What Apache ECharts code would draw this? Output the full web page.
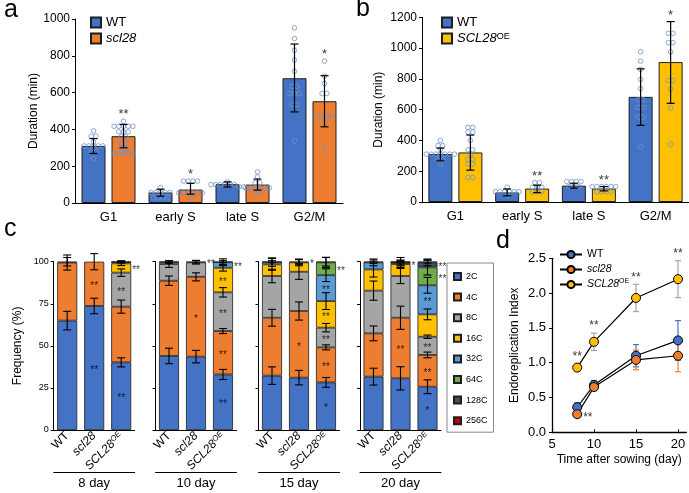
<!DOCTYPE html>
<html><head><meta charset="utf-8">
<script src="https://cdn.jsdelivr.net/npm/echarts@6/dist/echarts.min.js"></script>
<style>html,body{margin:0;padding:0;background:#fff}#c{width:689px;height:493px}</style>
</head><body><div id="c"></div>
<script>
// ================= DATA =================
const phases = ['G1', 'early S', 'late S', 'G2/M'];
// panel a: WT vs scl28
const aWT = [310, 57, 102, 678];
const aWTLo = [269, 37, 87, 495];
const aWTHi = [350, 75, 115, 864];
const aWTSig = ['', '', '', ''];
const aWTDots = [
  [392, 363, 363, 332, 310, 310, 310, 310, 310, 278, 278, 242],
  [84, 57, 57, 57, 57, 57, 28, 28, 28, 28],
  [115, 100, 100, 100, 100, 100, 100, 88, 88],
  [952, 894, 830, 776, 716, 634, 634, 595, 595, 595, 535, 535, 338]
];
const aScl = [363, 73, 100, 553];
const aSclLo = [300, 48, 70, 414];
const aSclHi = [427, 107, 130, 692];
const aSclSig = ['**', '*', '', '*'];
const aSclDots = [
  [444, 417, 417, 417, 417, 417, 387, 387, 387, 360, 360, 327, 327, 296, 296, 269, 269, 269, 269, 269],
  [119, 119, 119, 119, 55, 55, 55, 55, 55, 55, 28],
  [169, 142, 110, 110, 82, 82, 82, 82, 82, 82, 55, 55],
  [771, 689, 649, 595, 595, 472, 472, 472, 472, 441, 300]
];
// panel b: WT vs SCL28OE
const bWT = [311, 62, 106, 683];
const bWTLo = [267, 40, 90, 498];
const bWTHi = [350, 85, 122, 865];
const bWTSig = ['', '', '', ''];
const bWTDots = [
  [400, 367, 367, 339, 311, 311, 311, 311, 311, 311, 311, 274, 274, 246],
  [96, 67, 67, 67, 67, 67, 67, 39],
  [133, 133, 133, 133, 100, 100, 100],
  [976, 915, 861, 796, 737, 665, 665, 615, 615, 552, 552, 357]
];
const bOE = [322, 87, 87, 909];
const bOELo = [207, 61, 72, 641];
const bOEHi = [435, 109, 100, 1172];
const bOESig = ['', '**', '**', '*'];
const bOEDots = [
  [485, 485, 454, 454, 400, 339, 339, 311, 278, 278, 248, 248, 159, 159],
  [126, 126, 96, 96, 96, 67, 67, 67],
  [100, 100, 100, 100, 100, 100, 67, 67, 67, 67],
  [1096, 1096, 1035, 1035, 976, 789, 789, 735, 611, 376]
];

// panel c: ploidy distribution (%), order: 8d WT, 8d scl28, 8d OE, 10d ..., 15d ..., 20d ...
const genotypes = ['WT', 'scl28', 'SCL28OE'];
const days = ['8 day', '10 day', '15 day', '20 day'];
const ploidy = ['2C', '4C', '8C', '16C', '32C', '64C', '128C', '256C'];
const c2C   = [65.0, 73.7, 40.2, 44.0, 43.6, 33.0, 32.3, 31.1, 28.3, 31.7, 30.7, 25.7];
const c4C   = [34.5, 26.3, 33.1, 44.7, 47.4, 25.8, 34.4, 39.6, 20.8, 25.7, 36.0, 18.9];
const c8C   = [0.5, 0, 20.2, 9.9, 8.6, 23.0, 24.8, 23.3, 11.7, 25.4, 24.8, 10.8];
const c16C  = [0, 0, 5.5, 1.2, 0.4, 14.6, 6.9, 5.6, 15.8, 12.6, 7.1, 13.3];
const c32C  = [0, 0, 0.8, 0.2, 0, 3.3, 1.4, 0.4, 15.4, 4.2, 0.9, 17.3];
const c64C  = [0, 0, 0.2, 0, 0, 0.3, 0.2, 0, 7.6, 0.4, 0.2, 10.6];
const c128C = [0, 0, 0, 0, 0, 0, 0, 0, 0.4, 0, 0.3, 3.0];
const c256C = [0, 0, 0, 0, 0, 0, 0, 0, 0, 0, 0, 0.4];
// error (half-width, %)
const e2C   = [5.5, 4.6, 2.7, 4.6, 3.7, 3.0, 5.2, 4.3, 2.9, 5.0, 6.9, 4.1];
const e4C   = [4.5, 4.8, 3.9, 2.8, 2.4, 1.5, 5.0, 5.4, 1.5, 4.4, 6.9, 1.7];
const e8C   = [2.5, 0, 2.2, 2.0, 1.0, 2.8, 4.0, 4.5, 2.5, 5.7, 4.5, 1.0];
const e16C  = [0, 0, 1.3, 0.8, 0.8, 2.0, 3.5, 2.0, 5.0, 4.5, 2.0, 3.2];
const e32C  = [0, 0, 0.6, 0.6, 0, 2.0, 2.5, 1.2, 3.8, 2.0, 1.5, 4.7];
const e64C  = [0, 0, 0.4, 0, 0, 0.6, 0.6, 0, 3.0, 1.0, 0.5, 4.5];
const e128C = [0, 0, 0, 0, 0, 0, 0, 0, 2.5, 0, 2.5, 2.0];
const e256C = [0, 0, 0, 0, 0, 0, 0, 0, 0, 0, 0, 0.8];
// significance marks
const s2C   = ['', '**', '**', '', '', '**', '', '', '*', '', '', '*'];
const s4C   = ['', '**', '', '', '*', '**', '', '*', '**', '', '**', '**'];
const s8C   = ['', '', '**', '', '', '**', '', '', '**', '', '', '**'];
const s16C  = ['', '', '**', '', '**', '**', '', '', '**', '', '', ''];
const s32C  = ['', '', '**', '', '', '**', '', '*', '**', '', '*', '**'];
const s64C  = ['', '', '', '', '', '*', '', '', '**', '', '', '**'];
const s128C = ['', '', '', '', '', '', '', '', '', '', '**', '**'];
const s256C = ['', '', '', '', '', '', '', '', '', '', '', '*'];

// panel d: endoreplication index
const dDays = [8, 10, 15, 20];
const dWT = [0.36, 0.68, 1.10, 1.32];
const dWTErr = [0.065, 0.065, 0.16, 0.285];
const dScl = [0.26, 0.65, 1.04, 1.10];
const dSclErr = [0.04, 0.04, 0.14, 0.23];
const dOE = [0.93, 1.30, 1.93, 2.20];
const dOEErr = [0.05, 0.125, 0.195, 0.265];
const dSclSig = ['**', '', '', ''];
const dOESig = ['**', '**', '**', '**'];

// ================= STYLE / LAYOUT =================
const FONT = 'Liberation Sans';
const COL = { WT: '#4472C4', scl: '#ED7D31', OE: '#FFC000' };
const cColors = ['#4472C4', '#ED7D31', '#A5A5A5', '#FFC000', '#5B9BD5', '#70AD47', '#3B4E6B', '#C00000'];
const LA = { left: 75, top: 19, width: 268, height: 184 };
const LB = { left: 422, top: 17.3, width: 267, height: 184.7 };
const LC = [53.7, 155.5, 258.5, 360].map(l => ({ left: l, top: 261.7, width: 81, height: 168.3 }));
const LD = { left: 552, top: 258.3, width: 134.4, height: 174 };

const grids = [], xAxes = [], yAxes = [], series = [];
const txt = (o) => Object.assign({ color: '#000', fontFamily: FONT }, o);
const rich = {
  i: txt({ fontStyle: 'italic' }),
  s: txt({ fontSize: 8, verticalAlign: 'top' }),
  si: txt({ fontSize: 8, fontStyle: 'italic', verticalAlign: 'top' })
};
const hiddenAxis = { show: false, axisLine: { show: false, onZero: false }, axisTick: { show: false },
  axisLabel: { show: false }, splitLine: { show: false }, splitArea: { show: false } };
// overlay value axis spans the category bands: band k (0-based) is centred at k + 1
const OV = 1;

function swarm(values, center, step, tol) {
  const sorted = values.slice().sort((a, b) => b - a);
  const rows = [];
  sorted.forEach(v => {
    const r = rows.find(r => Math.abs(r[0] - v) <= tol);
    if (r) r.push(v); else rows.push([v]);
  });
  const pts = [];
  rows.forEach(r => r.forEach((v, j) => pts.push([center + (j - (r.length - 1) / 2) * step, v])));
  return pts;
}

function errRender(capPx, color, lw) {
  return function (params, api) {
    const x = api.value(0), lo = api.value(1), hi = api.value(2);
    const p1 = api.coord([x, lo]), p2 = api.coord([x, hi]);
    const h = capPx / 2;
    const style = { stroke: color, lineWidth: lw };
    return { type: 'group', children: [
      { type: 'line', shape: { x1: p1[0], y1: p1[1], x2: p2[0], y2: p2[1] }, style },
      { type: 'line', shape: { x1: p1[0] - h, y1: p1[1], x2: p1[0] + h, y2: p1[1] }, style },
      { type: 'line', shape: { x1: p2[0] - h, y1: p2[1], x2: p2[0] + h, y2: p2[1] }, style }
    ] };
  };
}

function addBarPanel(L, yMax, groups, yNameGap) {
  const gi = grids.length;
  grids.push(Object.assign({ outerBoundsMode: 'none' }, L));
  const xc = xAxes.length;
  xAxes.push({ type: 'category', gridIndex: gi, data: phases, axisTick: { show: false },
    axisLine: { onZero: false, lineStyle: { color: '#000', width: 1 } },
    axisLabel: txt({ fontSize: 13, margin: 8 }), z: 5 });
  const xv = xAxes.length;
  xAxes.push(Object.assign({ type: 'value', gridIndex: gi, min: OV - 0.5, max: OV + phases.length - 0.5 }, hiddenAxis));
  const yi = yAxes.length;
  yAxes.push({ type: 'value', gridIndex: gi, min: 0, max: yMax, interval: 200,
    splitLine: { show: false }, axisLine: { show: true, onZero: false, lineStyle: { color: '#000' } },
    axisTick: { show: true, length: 3, lineStyle: { color: '#000' } },
    axisLabel: txt({ fontSize: 12, margin: 5, formatter: v => String(v) }),
    name: 'Duration (min)', nameLocation: 'middle', nameGap: yNameGap,
    nameTextStyle: txt({ fontSize: 12 }) });
  const bw = 24, gap = 6, band = L.width / phases.length;
  const off = (bw + gap) / 2 / band;
  groups.forEach((g, k) => {
    const c = OV + (k === 0 ? -off : off);
    series.push({ type: 'bar', name: g.name, xAxisIndex: xc, yAxisIndex: yi, data: g.vals,
      barWidth: bw, barGap: (gap / bw * 100) + '%',
      itemStyle: { color: g.color, borderColor: '#1e1e1e', borderWidth: 1 }, z: 2 });
    const dots = [];
    g.dots.forEach((arr, i) => swarm(arr, i + c, 4.7 / band, yMax * 0.014).forEach(p => dots.push(p)));
    series.push({ type: 'scatter', xAxisIndex: xv, yAxisIndex: yi, data: dots, symbol: 'circle',
      symbolSize: 4.6, itemStyle: { color: 'rgba(255,255,255,0)', borderColor: '#6f93c8', borderWidth: 1 },
      z: 4, silent: true });
    series.push({ type: 'custom', xAxisIndex: xv, yAxisIndex: yi,
      data: g.vals.map((v, i) => [i + c, g.lo[i], g.hi[i]]), encode: { x: 0, y: [1, 2] },
      renderItem: errRender(8, '#000', 1.2), z: 5, silent: true });
    const stars = [];
    g.sig.forEach((s, i) => { if (s) stars.push({ value: [i + c, Math.max(g.hi[i], ...g.dots[i])], name: s }); });
    if (stars.length) series.push({ type: 'scatter', xAxisIndex: xv, yAxisIndex: yi, data: stars,
      symbolSize: 0, label: txt({ show: true, position: 'top', distance: 0, formatter: '{b}', fontSize: 13 }),
      z: 6, silent: true });
  });
}

addBarPanel(LA, 1000, [
  { name: 'WT', color: COL.WT, vals: aWT, lo: aWTLo, hi: aWTHi, dots: aWTDots, sig: aWTSig },
  { name: 'scl28', color: COL.scl, vals: aScl, lo: aSclLo, hi: aSclHi, dots: aSclDots, sig: aSclSig }
], 35);
addBarPanel(LB, 1200, [
  { name: 'WT', color: COL.WT, vals: bWT, lo: bWTLo, hi: bWTHi, dots: bWTDots, sig: bWTSig },
  { name: 'SCL28OE', color: COL.OE, vals: bOE, lo: bOELo, hi: bOEHi, dots: bOEDots, sig: bOESig }
], 37);

// ----- panel c -----
const cVals = [c2C, c4C, c8C, c16C, c32C, c64C, c128C, c256C];
const cErr = [e2C, e4C, e8C, e16C, e32C, e64C, e128C, e256C];
const cSig = [s2C, s4C, s8C, s16C, s32C, s64C, s128C, s256C];
const genoFmt = v => v === 'WT' ? 'WT' : v === 'scl28' ? '{i|scl28}' : '{i|SCL28}{si|OE}';
LC.forEach((L, d) => {
  const gi = grids.length;
  grids.push(Object.assign({ outerBoundsMode: 'none' }, L));
  const xc = xAxes.length;
  xAxes.push({ type: 'category', gridIndex: gi, data: genotypes, axisTick: { show: false },
    axisLine: { onZero: false, lineStyle: { color: '#000' } },
    axisLabel: txt({ rotate: 45, margin: 4, fontSize: 12, formatter: genoFmt, rich: rich }), z: 5 });
  xAxes.push({ type: 'category', gridIndex: gi, data: [''], position: 'bottom', offset: 42,
    axisLine: { show: true, onZero: false, lineStyle: { color: '#000' } }, axisTick: { show: false },
    axisLabel: { show: false }, splitLine: { show: false }, name: days[d], nameLocation: 'middle', nameGap: 5,
    nameTextStyle: txt({ fontSize: 13, verticalAlign: 'top' }) });
  const yi = yAxes.length;
  yAxes.push({ type: 'value', gridIndex: gi, min: 0, max: 100, interval: 25,
    splitLine: { show: false }, axisLine: { show: true, onZero: false, lineStyle: { color: '#000' } },
    axisTick: { show: true, length: 3, lineStyle: { color: '#000' } },
    axisLabel: txt({ show: d === 0, fontSize: 9, margin: 5 }),
    name: d === 0 ? 'Frequency (%)' : '', nameLocation: 'middle', nameGap: 30,
    nameTextStyle: txt({ fontSize: 12 }) });
  ploidy.forEach((p, k) => {
    series.push({ type: 'bar', name: p, stack: 'st' + d, xAxisIndex: xc, yAxisIndex: yi,
      data: [0, 1, 2].map(g => { const v = cVals[k][d * 3 + g]; return v > 0 ? v : null; }),
      barWidth: 20, itemStyle: { color: cColors[k], borderColor: '#1e1e1e', borderWidth: 0.8 }, z: 2 });
  });
  const errs = [], stars = [];
  [0, 1, 2].forEach(g => {
    const i = d * 3 + g;
    let cum = 0, prevRight = -Infinity;
    ploidy.forEach((p, k) => {
      const v = cVals[k][i], lo = cum; cum += v;
      if (v > 0 && cErr[k][i] > 0) errs.push([g, cum - cErr[k][i], cum + cErr[k][i]]);
      const s = cSig[k][i];
      if (s) {
        const mid = (lo + cum) / 2;
        if (v >= 10.7) {
          stars.push({ value: [g, mid], name: s, label: { position: 'inside' } });
        } else {
          const y = Math.max(mid, prevRight + 4);
          prevRight = y;
          stars.push({ value: [g, y], name: s, label: { position: 'right', distance: 11 } });
        }
      }
    });
  });
  series.push({ type: 'custom', xAxisIndex: xc, yAxisIndex: yi, data: errs, encode: { x: 0, y: [1, 2] },
    renderItem: errRender(8, '#000', 1.1), z: 5, silent: true });
  series.push({ type: 'scatter', xAxisIndex: xc, yAxisIndex: yi, data: stars, symbolSize: 0,
    label: txt({ show: true, formatter: '{b}', fontSize: 10, offset: [0, 2.5] }), z: 6, silent: true });
});

// ----- panel d -----
{
  const gi = grids.length;
  grids.push(Object.assign({ outerBoundsMode: 'none' }, LD));
  const xi = xAxes.length;
  xAxes.push({ type: 'value', gridIndex: gi, min: 5, max: 21, interval: 5, splitLine: { show: false },
    axisLine: { onZero: false, lineStyle: { color: '#000', width: 1.3 } },
    axisTick: { show: true, inside: true, length: 3, customValues: [5, 10, 15, 20], lineStyle: { color: '#000' } },
    axisLabel: txt({ fontSize: 13, margin: 6, customValues: [5, 10, 15, 20] }),
    name: 'Time after sowing (day)', nameLocation: 'middle', nameGap: 21,
    nameTextStyle: txt({ fontSize: 12, verticalAlign: 'top' }) });
  const yi = yAxes.length;
  yAxes.push({ type: 'value', gridIndex: gi, min: 0, max: 2.5, interval: 0.5, splitLine: { show: false },
    axisLine: { show: true, onZero: false, lineStyle: { color: '#000', width: 1.3 } },
    axisTick: { show: true, length: 3, lineStyle: { color: '#000' } },
    axisLabel: txt({ fontSize: 13, margin: 6, formatter: v => v.toFixed(1) }),
    name: 'Endoreplication Index', nameLocation: 'middle', nameGap: 31,
    nameTextStyle: txt({ fontSize: 12 }) });
  const defs = [
    { name: 'dWT', vals: dWT, err: dWTErr, color: COL.WT, errColor: '#4472C4' },
    { name: 'dscl28', vals: dScl, err: dSclErr, color: COL.scl, errColor: '#ED7D31' },
    { name: 'dOE', vals: dOE, err: dOEErr, color: COL.OE, errColor: '#A5A5A5' }
  ];
  defs.forEach(s => {
    series.push({ type: 'custom', xAxisIndex: xi, yAxisIndex: yi,
      data: dDays.map((x, i) => [x, s.vals[i] - s.err[i], s.vals[i] + s.err[i]]), encode: { x: 0, y: [1, 2] },
      renderItem: errRender(6, s.errColor, 1.2), z: 2, silent: true });
  });
  defs.forEach(s => {
    series.push({ type: 'line', name: s.name, xAxisIndex: xi, yAxisIndex: yi,
      data: dDays.map((x, i) => [x, s.vals[i]]), symbol: 'circle', symbolSize: 9,
      itemStyle: { color: s.color, borderColor: '#000', borderWidth: 1 },
      lineStyle: { color: '#000', width: 1.2 }, z: 3 });
  });
  const starsOE = [], starsScl = [];
  dDays.forEach((x, i) => {
    if (dOESig[i]) starsOE.push({ value: [x, dOE[i] + dOEErr[i]], name: dOESig[i] });
    if (dSclSig[i]) starsScl.push({ value: [x, dScl[i]], name: dSclSig[i] });
  });
  series.push({ type: 'scatter', xAxisIndex: xi, yAxisIndex: yi, data: starsOE, symbolSize: 0,
    label: txt({ show: true, position: 'top', distance: 1, formatter: '{b}', fontSize: 12 }), z: 6, silent: true });
  series.push({ type: 'scatter', xAxisIndex: xi, yAxisIndex: yi, data: starsScl, symbolSize: 0,
    label: txt({ show: true, position: 'right', distance: 6, formatter: '{b}', fontSize: 12, offset: [0, 3] }), z: 6, silent: true });
}

const legendFmt = n => n === 'scl28' || n === 'dscl28' ? '{i|scl28}' :
  (n === 'SCL28OE' || n === 'dOE') ? '{i|SCL28}{s|OE}' : n === 'dWT' ? 'WT' : n;

const option = {
  animation: false,
  backgroundColor: '#fff',
  title: [
    { text: 'a', left: 4, top: -2, padding: 0, textStyle: txt({ fontSize: 25, fontWeight: 'normal' }) },
    { text: 'b', left: 356, top: -3, padding: 0, textStyle: txt({ fontSize: 25, fontWeight: 'normal' }) },
    { text: 'c', left: 4, top: 217, padding: 0, textStyle: txt({ fontSize: 25, fontWeight: 'normal' }) },
    { text: 'd', left: 496, top: 229, padding: 0, textStyle: txt({ fontSize: 25, fontWeight: 'normal' }) }
  ],
  legend: [
    { data: ['WT', 'scl28'], left: 90, top: 16, orient: 'vertical', icon: 'rect', itemWidth: 10, itemHeight: 10,
      itemGap: 3, padding: 0, formatter: legendFmt, textStyle: txt({ fontSize: 13, rich: rich }) },
    { data: ['WT', 'SCL28OE'], left: 441, top: 16, orient: 'vertical', icon: 'rect', itemWidth: 10, itemHeight: 10,
      itemGap: 3, padding: 0, formatter: legendFmt, textStyle: txt({ fontSize: 13, rich: { i: txt({ fontSize: 13, fontStyle: 'italic' }), s: txt({ fontSize: 9, verticalAlign: 'top' }) } }) },
    { data: ploidy, left: 447, top: 263, orient: 'vertical', icon: 'rect', itemWidth: 7, itemHeight: 7,
      itemGap: 9.6, padding: [8, 6, 6, 6], borderColor: '#888', borderWidth: 1,
      textStyle: txt({ fontSize: 9, lineHeight: 11 }) },
    { data: ['dWT', 'dscl28', 'dOE'], left: 559, top: 248, orient: 'vertical', itemWidth: 22, itemHeight: 9,
      itemGap: 2, padding: 0, formatter: legendFmt,
      textStyle: txt({ fontSize: 10.5, lineHeight: 13, rich: { i: txt({ fontSize: 10.5, fontStyle: 'italic' }), s: txt({ fontSize: 7, verticalAlign: 'top' }) } }) }
  ],
  grid: grids,
  xAxis: xAxes,
  yAxis: yAxes,
  series: series
};
const chart = echarts.init(document.getElementById('c'));
chart.setOption(option);
</script>
</body></html>
